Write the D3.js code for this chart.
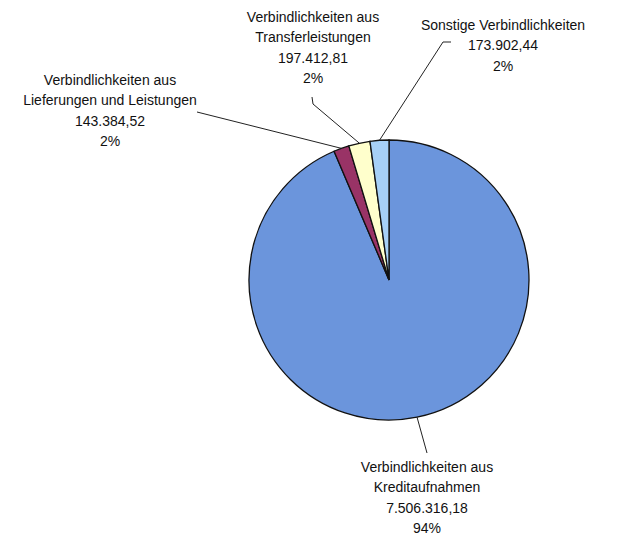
<!DOCTYPE html>
<html>
<head>
<meta charset="utf-8">
<script src="https://d3js.org/d3.v7.min.js"></script>
<style>
  body { margin: 0; background: #fff; }
  svg text { font-family: "Liberation Sans", Arial, sans-serif; font-size: 14px; fill: #111; }
</style>
</head>
<body>
<svg id="chart" width="626" height="535"></svg>
<script>
// chart data
var names = [
  ["Verbindlichkeiten aus", "Kreditaufnahmen"],
  ["Verbindlichkeiten aus", "Lieferungen und Leistungen"],
  ["Verbindlichkeiten aus", "Transferleistungen"],
  ["Sonstige Verbindlichkeiten"]
];
var values = [7506316.18, 143384.52, 197412.81, 173902.44];
var valueLabels = ["7.506.316,18", "143.384,52", "197.412,81", "173.902,44"];
var pctLabels = ["94%", "2%", "2%", "2%"];
var colors = ["#6b95dc", "#993366", "#ffffcc", "#a6d0f7"];

var svg = d3.select("#chart");
var cx = 389, cy = 280, radius = 140;
var g = svg.append("g").attr("transform", "translate(" + cx + "," + cy + ")");

var pie = d3.pie().sort(null).value(function (d) { return d; });
var arcs = pie(values);
var arc = d3.arc().innerRadius(0).outerRadius(radius);

g.selectAll("path.slice")
  .data(arcs)
  .enter().append("path")
  .attr("class", "slice")
  .attr("d", arc)
  .attr("fill", function (d, i) { return colors[i]; })
  .attr("stroke", "#111")
  .attr("stroke-width", 1.3);

// label placement (absolute page coords): text centre x, first line y, leader end points
var layout = [
  {x: 427, y: 472, pts: [[427, 453]]},
  {x: 110, y: 85, pts: [[197, 112]]},
  {x: 313, y: 22, pts: [[313, 104], [312, 97]]},
  {x: 503, y: 30, pts: [[443, 42], [451, 42]]}
];

arcs.forEach(function (d, i) {
  var mid = (d.startAngle + d.endAngle) / 2;
  var start = [cx + radius * Math.sin(mid), cy - radius * Math.cos(mid)];
  var pts = [start].concat(layout[i].pts);
  svg.append("path")
    .attr("d", d3.line()(pts))
    .attr("fill", "none")
    .attr("stroke", "#222")
    .attr("stroke-width", 1);

  var lines = names[i].concat([valueLabels[i], pctLabels[i]]);
  var t = svg.append("text")
    .attr("text-anchor", "middle")
    .attr("x", layout[i].x)
    .attr("y", layout[i].y);
  lines.forEach(function (s, k) {
    t.append("tspan")
      .attr("x", layout[i].x)
      .attr("dy", k === 0 ? 0 : 20.3)
      .text(s);
  });
});
</script>
</body>
</html>
